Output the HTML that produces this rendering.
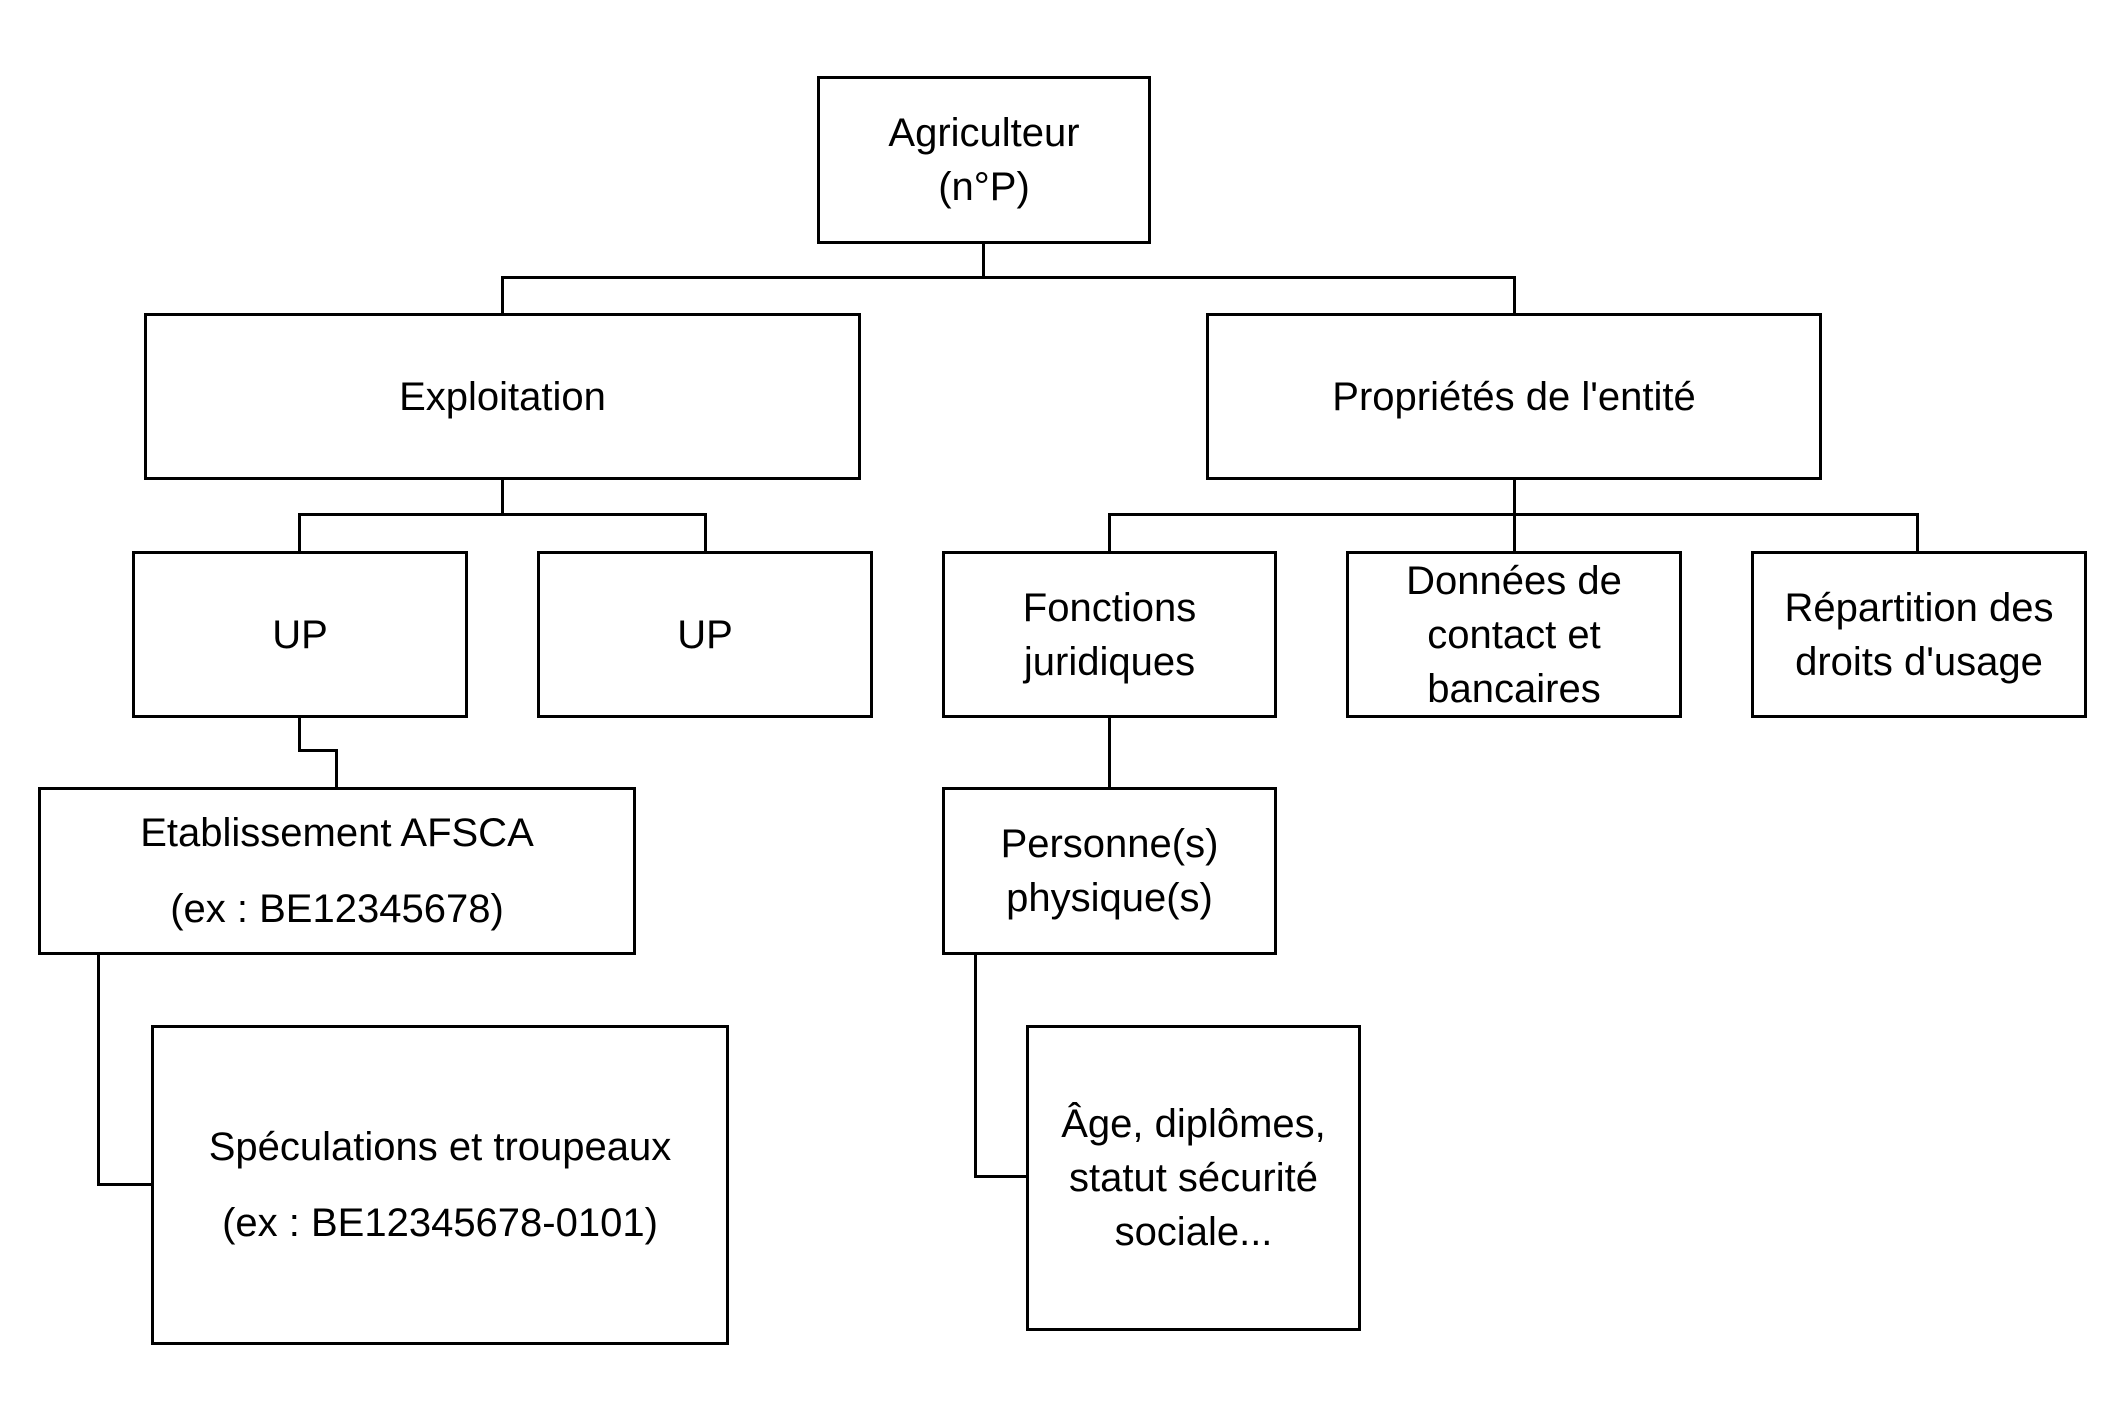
<!DOCTYPE html>
<html><head><meta charset="utf-8"><style>
body{margin:0;width:2117px;height:1419px;background:#fff;position:relative;overflow:hidden;font-family:"Liberation Sans",sans-serif;}
.b{position:absolute;box-sizing:border-box;border:3px solid #000;display:flex;align-items:center;justify-content:center;text-align:center;font-size:40px;line-height:54px;color:#000;}
.l{position:absolute;background:#000;}
</style></head><body>
<div class="b" style="left:817px;top:76px;width:334px;height:168px;">Agriculteur<br>(n°P)</div>
<div class="b" style="left:144px;top:313px;width:717px;height:167px;">Exploitation</div>
<div class="b" style="left:1206px;top:313px;width:616px;height:167px;">Propriétés de l'entité</div>
<div class="b" style="left:132px;top:551px;width:336px;height:167px;">UP</div>
<div class="b" style="left:537px;top:551px;width:336px;height:167px;">UP</div>
<div class="b" style="left:942px;top:551px;width:335px;height:167px;">Fonctions<br>juridiques</div>
<div class="b" style="left:1346px;top:551px;width:336px;height:167px;">Données de<br>contact et<br>bancaires</div>
<div class="b" style="left:1751px;top:551px;width:336px;height:167px;">Répartition des<br>droits d'usage</div>
<div class="b" style="left:38px;top:787px;width:598px;height:168px;line-height:76px;">Etablissement AFSCA<br>(ex : BE12345678)</div>
<div class="b" style="left:942px;top:787px;width:335px;height:168px;">Personne(s)<br>physique(s)</div>
<div class="b" style="left:151px;top:1025px;width:578px;height:320px;line-height:76px;">Spéculations et troupeaux<br>(ex : BE12345678-0101)</div>
<div class="b" style="left:1026px;top:1025px;width:335px;height:306px;">Âge, diplômes,<br>statut sécurité<br>sociale...</div>
<div class="l" style="left:982px;top:243px;width:3px;height:35px;"></div>
<div class="l" style="left:501px;top:276px;width:1015px;height:3px;"></div>
<div class="l" style="left:501px;top:276px;width:3px;height:38px;"></div>
<div class="l" style="left:1513px;top:276px;width:3px;height:38px;"></div>
<div class="l" style="left:501px;top:479px;width:3px;height:36px;"></div>
<div class="l" style="left:298px;top:513px;width:409px;height:3px;"></div>
<div class="l" style="left:298px;top:513px;width:3px;height:39px;"></div>
<div class="l" style="left:704px;top:513px;width:3px;height:39px;"></div>
<div class="l" style="left:1513px;top:479px;width:3px;height:73px;"></div>
<div class="l" style="left:1108px;top:513px;width:811px;height:3px;"></div>
<div class="l" style="left:1108px;top:513px;width:3px;height:39px;"></div>
<div class="l" style="left:1916px;top:513px;width:3px;height:39px;"></div>
<div class="l" style="left:298px;top:717px;width:3px;height:35px;"></div>
<div class="l" style="left:298px;top:749px;width:39px;height:3px;"></div>
<div class="l" style="left:335px;top:749px;width:3px;height:39px;"></div>
<div class="l" style="left:97px;top:954px;width:3px;height:232px;"></div>
<div class="l" style="left:97px;top:1183px;width:55px;height:3px;"></div>
<div class="l" style="left:1108px;top:717px;width:3px;height:71px;"></div>
<div class="l" style="left:974px;top:954px;width:3px;height:224px;"></div>
<div class="l" style="left:974px;top:1175px;width:53px;height:3px;"></div>
</body></html>
